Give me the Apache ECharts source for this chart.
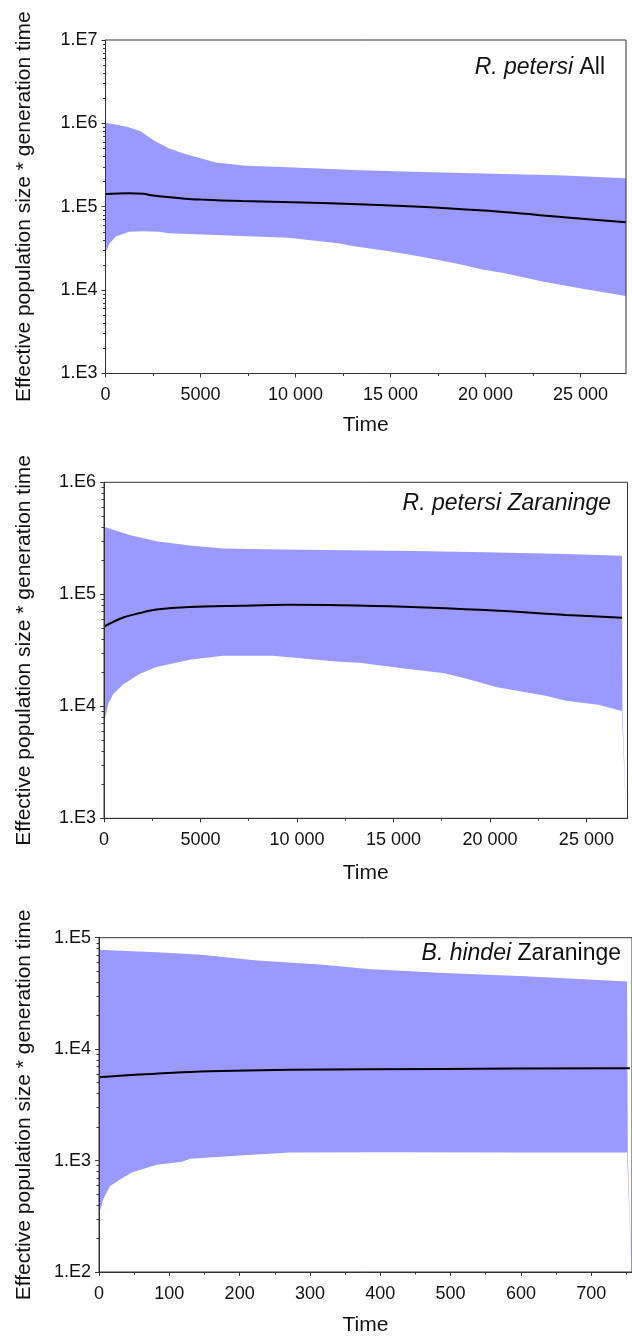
<!DOCTYPE html>
<html>
<head>
<meta charset="utf-8">
<script src="https://cdn.jsdelivr.net/npm/echarts@6.0.0/dist/echarts.min.js"></script>
<style>
  html, body { margin: 0; padding: 0; background: #fff; }
  #chart { width: 632px; height: 1337px; }
</style>
</head>
<body>
<div id="chart"></div>
<script>
// ---- panel 1 : R. petersi All ----
var p1UpperT = [0, 600, 1230, 1865, 2500, 3350, 4200, 5050, 5800, 7380, 9290, 13100, 15650, 19900, 24130, 27400];
var p1Upper = [1.02e6, 9.6e5, 9.0e5, 8.0e5, 6.3e5, 5.0e5, 4.3e5, 3.8e5, 3.4e5, 3.1e5, 3.0e5, 2.75e5, 2.65e5, 2.5e5, 2.37e5, 2.2e5];
var p1LowerT = [0, 200, 550, 1250, 1950, 2800, 3350, 6120, 9620, 12240, 13100, 15010, 16700, 18400, 19900, 20950, 23070, 25190, 27400];
var p1Lower = [2.8e4, 3.6e4, 4.4e4, 5.0e4, 5.1e4, 5.0e4, 4.8e4, 4.55e4, 4.25e4, 3.65e4, 3.35e4, 2.9e4, 2.5e4, 2.1e4, 1.75e4, 1.6e4, 1.26e4, 1.03e4, 8.5e3];
var p1MedT = [0, 1200, 2000, 2500, 4200, 5050, 7200, 11400, 15650, 19900, 24130, 27400];
var p1Med = [1.42e5, 1.45e5, 1.43e5, 1.36e5, 1.25e5, 1.22e5, 1.17e5, 1.11e5, 1.02e5, 9.0e4, 7.5e4, 6.5e4];

// ---- panel 2 : R. petersi Zaraninge ----
var p2UpperT = [0, 1320, 2720, 4440, 6170, 8230, 12500, 16000, 19750, 23930, 26840, 26870, 27060];
var p2Upper = [4.0e5, 3.38e5, 2.98e5, 2.73e5, 2.57e5, 2.52e5, 2.47e5, 2.43e5, 2.37e5, 2.29e5, 2.21e5, 9.1e3, 1.0e3];
var p2LowerT = [0, 225, 480, 1000, 1860, 2720, 4440, 6170, 8740, 12190, 13250, 15560, 17650, 18700, 20370, 22890, 23930, 25610, 26840, 27060];
var p2Lower = [7.0e3, 1.06e4, 1.29e4, 1.57e4, 1.95e4, 2.24e4, 2.61e4, 2.82e4, 2.82e4, 2.5e4, 2.45e4, 2.18e4, 1.97e4, 1.78e4, 1.48e4, 1.24e4, 1.12e4, 1.03e4, 9.1e3, 1.0e3];
var p2MedT = [0, 1000, 1860, 2720, 4440, 7030, 9500, 12190, 15560, 19750, 23930, 26840];
var p2Med = [5.15e4, 6.2e4, 6.8e4, 7.3e4, 7.7e4, 7.9e4, 8.05e4, 8.0e4, 7.76e4, 7.24e4, 6.55e4, 6.17e4];

// ---- panel 3 : B. hindei Zaraninge ----
var p3UpperT = [0, 89, 146, 221, 319, 382, 491, 606, 751, 752, 757];
var p3Upper = [7.8e4, 7.37e4, 7.03e4, 6.27e4, 5.73e4, 5.25e4, 4.83e4, 4.52e4, 4.05e4, 1.18e3, 100];
var p3LowerT = [0, 6, 15.7, 30, 46.5, 82, 118, 130, 200, 272, 405, 600, 751, 757];
var p3Lower = [330, 450, 590, 676, 783, 916, 975, 1040, 1110, 1180, 1190, 1180, 1180, 100];
var p3MedT = [0, 130, 272, 491, 755];
var p3Med = [5.6e3, 6.23e3, 6.52e3, 6.65e3, 6.75e3];

var FONT = '"Liberation Sans", Arial, sans-serif';
var BAND = '#9999ff';
var AXIS = '#333';

var panels = [
  { grid: { left: 105.5, top: 40, width: 520.5, height: 333.5 }, xMax: 27400, xStep: 5000,
    yMin: 1e3, yMax: 1e7, yGap: 71, xGap: 41,
    upT: p1UpperT, up: p1Upper, loT: p1LowerT, lo: p1Lower, medT: p1MedT, med: p1Med },
  { grid: { left: 104, top: 482.3, width: 523.5, height: 336 }, xMax: 27130, xStep: 5000,
    yMin: 1e3, yMax: 1e6, yGap: 69, xGap: 44,
    upT: p2UpperT, up: p2Upper, loT: p2LowerT, lo: p2Lower, medT: p2MedT, med: p2Med },
  { grid: { left: 99, top: 937.7, width: 533, height: 339 }, xMax: 758, xStep: 100,
    yMin: 1e2, yMax: 1e5, yGap: 64, xGap: 43,
    upT: p3UpperT, up: p3Upper, loT: p3LowerT, lo: p3Lower, medT: p3MedT, med: p3Med }
];

function zip(a, b) {
  return a.map(function (v, i) { return [v, b[i]]; });
}

function xLabel(step) {
  return function (v) {
    if (v % step !== 0) return '';
    return v >= 10000 ? String(v).replace(/(\d)(?=\d{3}$)/, '$1 ') : String(v);
  };
}

var grids = [], xAxes = [], yAxes = [], series = [];

panels.forEach(function (p, i) {
  grids.push(Object.assign({ show: true, borderColor: AXIS, borderWidth: 1, z: 5 }, p.grid));

  var majorX = [], minorX = [];
  for (var v = 0; v <= p.xMax; v += p.xStep) majorX.push(v);
  for (var w = p.xStep / 2; w <= p.xMax; w += p.xStep) minorX.push(w);
  var minorY = [];
  for (var d = p.yMin; d < p.yMax; d *= 10) {
    for (var k = 2; k <= 9; k++) minorY.push(k * d);
  }

  xAxes.push({
    type: 'value', gridIndex: i, min: 0, max: p.xMax, interval: p.xStep, z: 5,
    position: 'bottom',
    axisLine: { show: true, lineStyle: { color: AXIS, width: 1 } },
    axisTick: { show: true, length: 4, lineStyle: { color: AXIS }, customValues: majorX },
    axisLabel: { formatter: xLabel(p.xStep), margin: 13, fontSize: 18, color: '#111', fontFamily: FONT,
      showMaxLabel: false },
    splitLine: { show: false },
    name: 'Time', nameLocation: 'middle', nameGap: p.xGap,
    nameTextStyle: { fontSize: 21, color: '#111', fontFamily: FONT }
  });
  xAxes.push({
    type: 'value', gridIndex: i, min: 0, max: p.xMax, z: 5, position: 'bottom',
    axisLine: { show: false },
    axisTick: { show: true, length: 2.5, lineStyle: { color: AXIS }, customValues: minorX },
    axisLabel: { show: false },
    splitLine: { show: false }
  });

  yAxes.push({
    type: 'log', logBase: 10, gridIndex: i, min: p.yMin, max: p.yMax, z: 5, position: 'left',
    axisLine: { show: true, lineStyle: { color: AXIS, width: 1 } },
    axisTick: { show: true, length: 4, lineStyle: { color: AXIS } },
    axisLabel: {
      formatter: function (v) { return '1.E' + Math.round(Math.log10(v)); },
      margin: 8, fontSize: 18, color: '#111', fontFamily: FONT
    },
    splitLine: { show: false },
    name: 'Effective population size * generation time', nameLocation: 'middle',
    nameGap: p.yGap, nameRotate: 90,
    nameTextStyle: { fontSize: 21, color: '#111', fontFamily: FONT }
  });
  yAxes.push({
    type: 'log', logBase: 10, gridIndex: i, min: p.yMin, max: p.yMax, z: 5, position: 'left',
    axisLine: { show: false },
    axisTick: { show: true, length: 2.5, lineStyle: { color: AXIS }, customValues: minorY },
    axisLabel: { show: false },
    splitLine: { show: false }
  });

  // confidence band drawn as one polygon through the axes' scales
  series.push({
    type: 'custom', xAxisIndex: i * 2, yAxisIndex: i * 2, silent: true, z: 2,
    data: [[p.upT[0], p.up[0]]],
    renderItem: function (params, api) {
      var pts = [];
      for (var a = 0; a < p.upT.length; a++) pts.push(api.coord([p.upT[a], p.up[a]]));
      for (var b = p.loT.length - 1; b >= 0; b--) pts.push(api.coord([p.loT[b], p.lo[b]]));
      return { type: 'polygon', shape: { points: pts }, style: { fill: BAND } };
    }
  });

  series.push({
    type: 'line', xAxisIndex: i * 2, yAxisIndex: i * 2, z: 3,
    data: zip(p.medT, p.med), smooth: 0.35, showSymbol: false, symbol: 'none',
    lineStyle: { color: '#000', width: 2 }
  });
});

var chart = echarts.init(document.getElementById('chart'));
chart.setOption({
  animation: false,
  backgroundColor: '#fff',
  grid: grids,
  xAxis: xAxes,
  yAxis: yAxes,
  series: series,
  graphic: [
    { type: 'text', x: 605, y: 67.5, z: 10,
      style: { text: '{i|R. petersi} All', align: 'right', verticalAlign: 'middle',
        fontSize: 23, fontFamily: FONT, fill: '#111',
        rich: { i: { fontStyle: 'italic', fontSize: 23, fontFamily: FONT, fill: '#111' } } } },
    { type: 'text', x: 611, y: 503.5, z: 10,
      style: { text: 'R. petersi Zaraninge', align: 'right', verticalAlign: 'middle',
        fontSize: 23, fontStyle: 'italic', fontFamily: FONT, fill: '#111' } },
    { type: 'text', x: 621, y: 953.5, z: 10,
      style: { text: '{i|B. hindei} Zaraninge', align: 'right', verticalAlign: 'middle',
        fontSize: 23, fontFamily: FONT, fill: '#111',
        rich: { i: { fontStyle: 'italic', fontSize: 23, fontFamily: FONT, fill: '#111' } } } }
  ]
});
</script>
</body>
</html>
